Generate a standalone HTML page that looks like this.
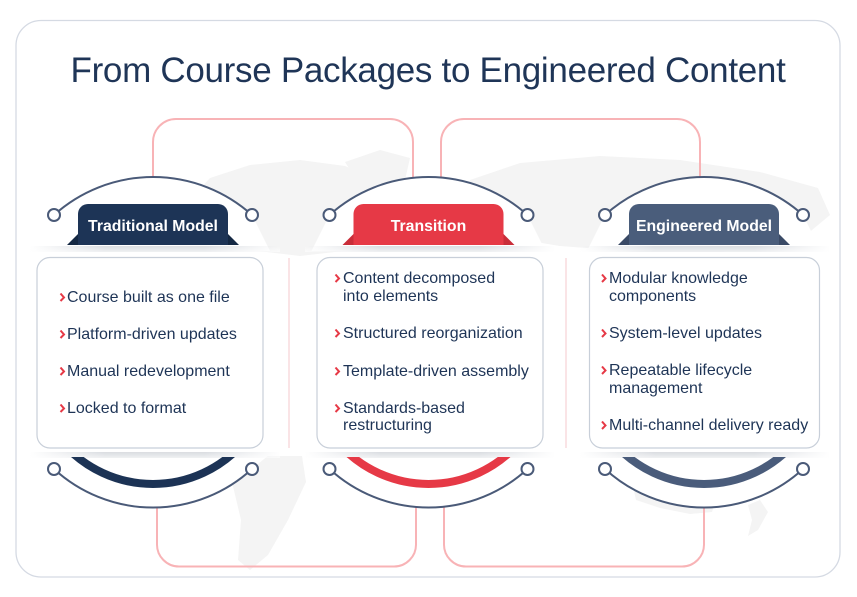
<!DOCTYPE html>
<html><head><meta charset="utf-8"><style>
html,body{margin:0;padding:0;background:#fff;}
svg{display:block;}
text{font-family:"Liberation Sans",Arial,sans-serif;}
</style></head><body>
<svg width="857" height="597" viewBox="0 0 857 597" xmlns="http://www.w3.org/2000/svg">
<defs>
<linearGradient id="sh" x1="0" x2="1" y1="0" y2="0">
<stop offset="0" stop-color="#cdd1d7" stop-opacity="0"/>
<stop offset="0.3" stop-color="#cdd1d7" stop-opacity="0.75"/>
<stop offset="0.7" stop-color="#cdd1d7" stop-opacity="0.75"/>
<stop offset="1" stop-color="#cdd1d7" stop-opacity="0"/>
</linearGradient>
<linearGradient id="fade" x1="0" x2="0" y1="0" y2="1">
<stop offset="0" stop-color="#fff" stop-opacity="0"/>
<stop offset="1" stop-color="#fff" stop-opacity="0.6"/>
</linearGradient>
<clipPath id="cl"><rect x="0" y="457" width="857" height="60"/></clipPath>
</defs>
<rect x="0" y="0" width="857" height="597" fill="#fff"/>
<rect x="16" y="20.5" width="824" height="556.5" rx="25" fill="#fff" stroke="#d5dae3" stroke-width="1.3"/>

<!-- faint world map -->
<g fill="#f4f4f4">
<path d="M185 205 L210 178 L250 165 L300 160 L345 166 L372 178 L392 198 L384 230 L352 250 L300 256 L250 250 L205 242 L182 226 Z"/>
<path d="M345 162 L380 150 L410 158 L405 180 L380 188 L355 178 Z"/>
<path d="M470 180 L520 163 L600 156 L680 160 L760 172 L818 188 L830 215 L800 240 L720 252 L640 252 L560 246 L500 236 L468 212 Z"/>
<path d="M234 456 L302 456 L306 482 L288 520 L268 555 L250 570 L238 560 L241 520 L232 482 Z"/>
<path d="M632 482 L660 476 L700 480 L718 494 L712 512 L690 514 L660 508 L636 500 Z"/>
<path d="M748 505 L760 500 L768 512 L758 530 L748 536 L752 520 Z"/>
<path d="M424 494 L445 490 L466 496 L460 506 L430 508 Z"/>
</g>

<!-- pink connectors -->
<g fill="none" stroke="#f8b3b6" stroke-width="2">
<path d="M153 180 V142 A23 23 0 0 1 176 119 H390 A23 23 0 0 1 413 142 V181"/>
<path d="M441 181 V142 A23 23 0 0 1 464 119 H677 A23 23 0 0 1 700 142 V180"/>
<path d="M157 505 V544 A22 22 0 0 0 179 566.5 H394 A22 22 0 0 0 416 544 V505"/>
<path d="M444 505 V544 A22 22 0 0 0 466 566.5 H682 A22 22 0 0 0 704 544 V505"/>
</g>

<!-- white fills under arcs -->
<g fill="#fff">
<path d="M54 215 A148 148 0 0 1 252 215 L270 251 L36 251 Z"/>
<path d="M329.5 215 A148 148 0 0 1 527.5 215 L545.5 251 L311.5 251 Z"/>
<path d="M605 215 A148 148 0 0 1 803 215 L821 251 L587 251 Z"/>
<path d="M54 469 A146.5 146.5 0 0 0 252 469 L270 454 L36 454 Z"/>
<path d="M329.5 469 A146.5 146.5 0 0 0 527.5 469 L545.5 454 L311.5 454 Z"/>
<path d="M605 469 A146.5 146.5 0 0 0 803 469 L821 454 L587 454 Z"/>
</g>

<!-- shadow bands -->
<g fill="url(#sh)">
<rect x="30" y="246" width="250" height="6"/>
<rect x="305" y="246" width="250" height="6"/>
<rect x="580" y="246" width="250" height="6"/>
<rect x="30" y="452" width="250" height="6"/>
<rect x="305" y="452" width="250" height="6"/>
<rect x="580" y="452" width="250" height="6"/>
</g>
<g fill="url(#fade)">
<rect x="30" y="246" width="250" height="6"/>
<rect x="305" y="246" width="250" height="6"/>
<rect x="580" y="246" width="250" height="6"/>
<rect x="30" y="452" width="250" height="6"/>
<rect x="305" y="452" width="250" height="6"/>
<rect x="580" y="452" width="250" height="6"/>
</g>

<!-- arcs -->
<g fill="none" stroke="#4a5a78" stroke-width="2">
<path d="M54 215 A148 148 0 0 1 252 215"/>
<path d="M329.5 215 A148 148 0 0 1 527.5 215"/>
<path d="M605 215 A148 148 0 0 1 803 215"/>
<path d="M54 469 A146.5 146.5 0 0 0 252 469"/>
<path d="M329.5 469 A146.5 146.5 0 0 0 527.5 469"/>
<path d="M605 469 A146.5 146.5 0 0 0 803 469"/>
</g>
<g fill="#fff" stroke="#4a5a78" stroke-width="2">
<circle cx="54" cy="215" r="6"/><circle cx="252" cy="215" r="6"/>
<circle cx="329.5" cy="215" r="6"/><circle cx="527.5" cy="215" r="6"/>
<circle cx="605" cy="215" r="6"/><circle cx="803" cy="215" r="6"/>
<circle cx="54" cy="469" r="6"/><circle cx="252" cy="469" r="6"/>
<circle cx="329.5" cy="469" r="6"/><circle cx="527.5" cy="469" r="6"/>
<circle cx="605" cy="469" r="6"/><circle cx="803" cy="469" r="6"/>
</g>

<!-- thick bottom arcs -->
<g fill="none" stroke-width="8" clip-path="url(#cl)">
<path d="M64.5 445 A120 120 0 0 0 241.5 445" stroke="#1c3355"/>
<path d="M340 445 A120 120 0 0 0 517 445" stroke="#e63946"/>
<path d="M615.5 445 A120 120 0 0 0 792.5 445" stroke="#4a5c7b"/>
</g>

<!-- tabs -->
<g>
<path d="M67 245 L78 234 L78 245 Z" fill="#142843"/>
<path d="M228 234 L239 245 L228 245 Z" fill="#142843"/>
<path d="M78 245 V214 A10 10 0 0 1 88 204 H218 A10 10 0 0 1 228 214 V245 Z" fill="#1d3456"/>
<path d="M342.5 245 L353.5 234 L353.5 245 Z" fill="#c92d39"/>
<path d="M503.5 234 L514.5 245 L503.5 245 Z" fill="#c92d39"/>
<path d="M353.5 245 V214 A10 10 0 0 1 363.5 204 H493.5 A10 10 0 0 1 503.5 214 V245 Z" fill="#e63946"/>
<path d="M618 245 L629 234 L629 245 Z" fill="#3a4a66"/>
<path d="M779 234 L790 245 L779 245 Z" fill="#3a4a66"/>
<path d="M629 245 V214 A10 10 0 0 1 639 204 H769 A10 10 0 0 1 779 214 V245 Z" fill="#4a5d7b"/>
</g>
<g fill="#fff" font-size="15.8" font-weight="bold" text-anchor="middle">
<text x="153" y="231">Traditional Model</text>
<text x="428.5" y="231">Transition</text>
<text x="704" y="231">Engineered Model</text>
</g>

<!-- title -->
<text x="428" y="82" font-size="35" fill="#1f3557" text-anchor="middle" letter-spacing="-0.3">From Course Packages to Engineered Content</text>

<!-- dividers -->
<g stroke="#f6d3d5" stroke-width="1.2">
<line x1="289" y1="258" x2="289" y2="448"/>
<line x1="566" y1="258" x2="566" y2="448"/>
</g>

<!-- cards -->
<g fill="#fff" stroke="#c8cfd9" stroke-width="1.2">
<rect x="37" y="257.5" width="226" height="190.5" rx="13"/>
<rect x="317" y="257.5" width="226" height="190.5" rx="13"/>
<rect x="589.5" y="257.5" width="230" height="190.5" rx="13"/>
</g>

<!-- chevrons -->
<g fill="none" stroke="#e63946" stroke-width="2" stroke-linejoin="miter">
<polyline points="60.5,293.5 64,297.5 60.5,301"/>
<polyline points="60.5,330.5 64,334.5 60.5,338"/>
<polyline points="60.5,367.5 64,371.5 60.5,375"/>
<polyline points="60.5,404.5 64,408.5 60.5,412"/>
<polyline points="335.5,274.5 339,278.5 335.5,282"/>
<polyline points="335.5,329.5 339,333.5 335.5,337"/>
<polyline points="335.5,367.5 339,371.5 335.5,375"/>
<polyline points="335.5,404.5 339,408.5 335.5,412"/>
<polyline points="602,274.5 605.5,278.5 602,282"/>
<polyline points="602,329.5 605.5,333.5 602,337"/>
<polyline points="602,366.5 605.5,370.5 602,374"/>
<polyline points="602,421.5 605.5,425.5 602,429"/>
</g>

<!-- card text -->
<g fill="#1e3456" font-size="16">
<text x="67" y="302">Course built as one file</text>
<text x="67" y="339">Platform-driven updates</text>
<text x="67" y="376">Manual redevelopment</text>
<text x="67" y="413">Locked to format</text>

<text x="343" y="283">Content decomposed</text>
<text x="343" y="301">into elements</text>
<text x="343" y="338">Structured reorganization</text>
<text x="343" y="376">Template-driven assembly</text>
<text x="343" y="413">Standards-based</text>
<text x="343" y="430">restructuring</text>

<text x="609" y="283">Modular knowledge</text>
<text x="609" y="301">components</text>
<text x="609" y="338">System-level updates</text>
<text x="609" y="375">Repeatable lifecycle</text>
<text x="609" y="393">management</text>
<text x="609" y="430">Multi-channel delivery ready</text>
</g>
</svg>
</body></html>
